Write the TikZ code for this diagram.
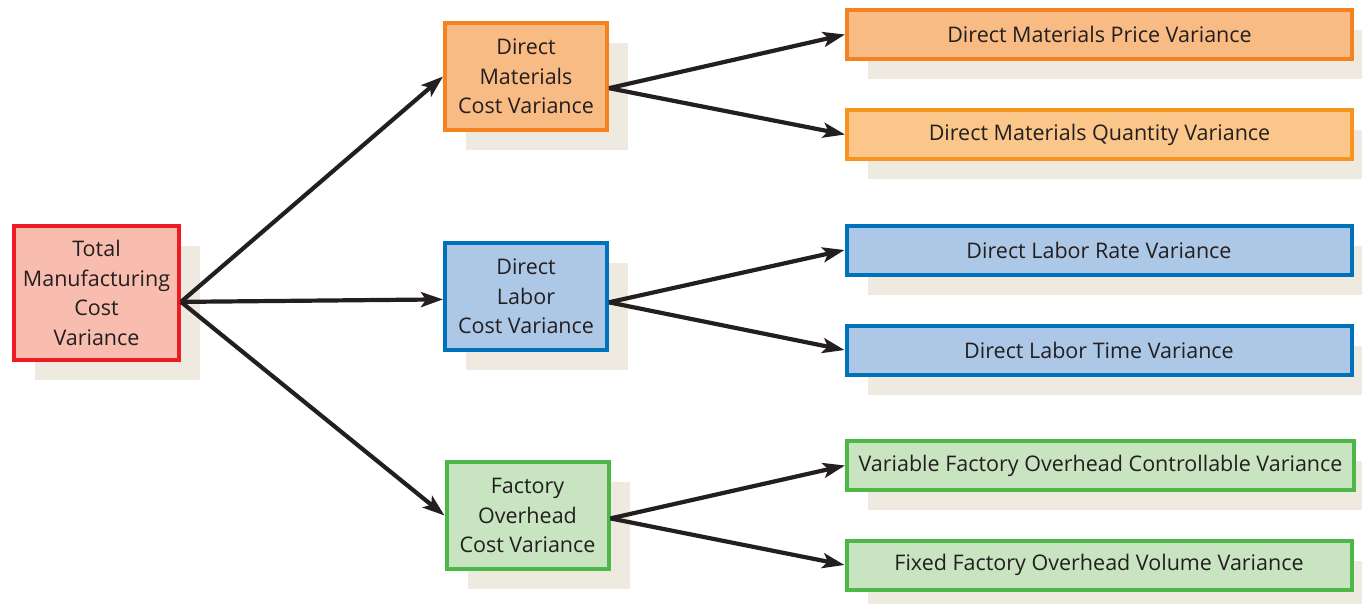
\documentclass[tikz,border=0pt]{standalone}
\usepackage{fontspec}
\setmainfont{Open Sans}
\usetikzlibrary{arrows.meta,shadows}
\definecolor{txt}{RGB}{35,31,32}
\definecolor{shc}{RGB}{238,234,224}
\definecolor{arrc}{RGB}{35,31,32}
\definecolor{redb}{RGB}{237,28,36}
\definecolor{redf}{RGB}{249,189,176}
\definecolor{orb}{RGB}{245,130,32}
\definecolor{orf}{RGB}{249,187,132}
\definecolor{ortb}{RGB}{247,148,29}
\definecolor{ortf}{RGB}{251,198,137}
\definecolor{blb}{RGB}{0,114,188}
\definecolor{blf}{RGB}{173,200,230}
\definecolor{grb}{RGB}{77,184,72}
\definecolor{grf}{RGB}{200,228,192}
\begin{document}
\begin{tikzpicture}[x=1pt,y=1pt,
 box/.style={draw, line width=4pt, inner sep=0pt, outer sep=2pt, align=center, text=txt,
   font=\fontsize{21.5}{29.5}\selectfont,
   drop shadow={shadow xshift=21pt, shadow yshift=-20pt, fill=shc, opacity=1}},
 smallbox/.style={box, minimum width=162pt, minimum height=107pt},
 widebox/.style={box, minimum width=505pt, minimum height=49pt},
 arr/.style={-{Stealth[length=22pt,width=15pt,inset=5pt]}, line width=4.2pt, draw=arrc}]
\fill[white] (0,0) rectangle (1362,-603);
\useasboundingbox (0,0) rectangle (1362,-603);
\clip (0,0) rectangle (1362,-603);
\node[smallbox, fill=redf, draw=redb, minimum width=165pt, minimum height=134pt] (tot) at (96.5,-293) {Total\\Manufacturing\\Cost\\Variance};
\node[smallbox, fill=orf, draw=orb] (dm) at (526,-76.5) {Direct\\Materials\\Cost Variance};
\node[smallbox, fill=blf, draw=blb] (dl) at (526,-296.5) {Direct\\Labor\\Cost Variance};
\node[smallbox, fill=grf, draw=grb] (fo) at (527.5,-515.5) {Factory\\Overhead\\Cost Variance};
\node[widebox, fill=orf, draw=orb] (dmp) at (1099.5,-34.5) {Direct Materials Price Variance};
\node[widebox, fill=ortf, draw=ortb] (dmq) at (1099.5,-134.5) {Direct Materials Quantity Variance};
\node[widebox, fill=blf, draw=blb] (dlr) at (1099,-250) {Direct Labor Rate Variance};
\node[widebox, fill=blf, draw=blb] (dlt) at (1099,-350) {Direct Labor Time Variance};
\node[widebox, fill=grf, draw=grb, minimum width=507pt] (vfo) at (1100.5,-465.5) {Variable Factory Overhead Controllable Variance};
\node[widebox, fill=grf, draw=grb] (ffo) at (1099,-565) {Fixed Factory Overhead Volume Variance};
\draw[arr] (tot.-6) -- (dm.west);
\draw[arr] (tot.-6) -- (dl.182);
\draw[arr] (tot.-6) -- (fo.west);
\draw[arr] (dm.-8) -- (dmp.west);
\draw[arr] (dm.-8) -- (dmq.west);
\draw[arr] (dl.-4) -- (dlr.west);
\draw[arr] (dl.-4) -- (dlt.west);
\draw[arr] (fo.-2) -- (vfo.west);
\draw[arr] (fo.-2) -- (ffo.west);
\end{tikzpicture}
\end{document}
